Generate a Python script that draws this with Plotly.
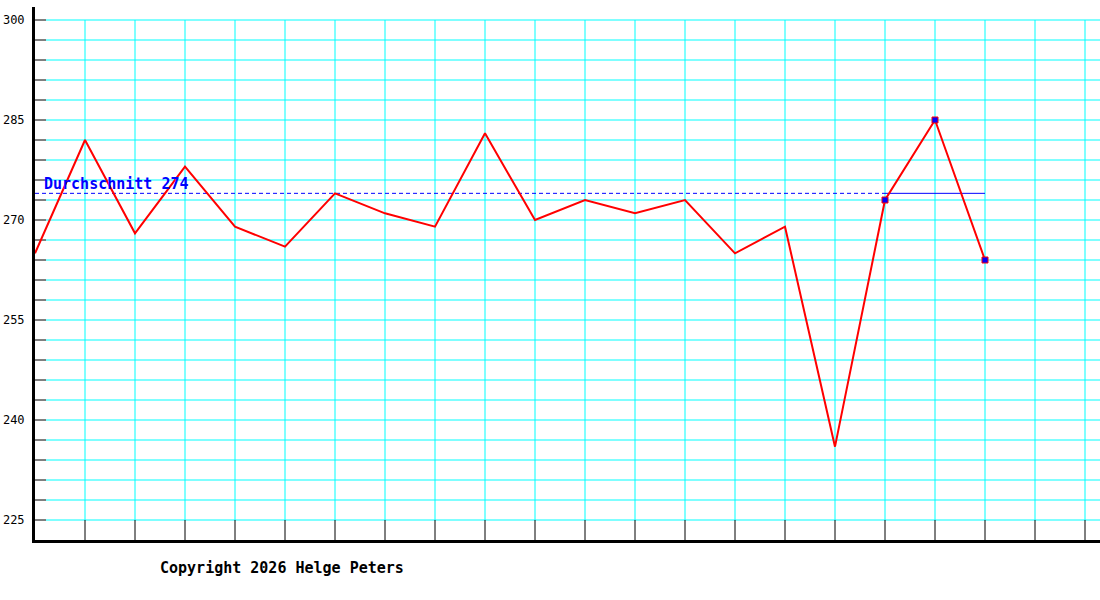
import plotly.graph_objects as go


# values, one per column
points = list(range(20))

values = [265, 282, 268, 278, 269, 266, 274, 271, 269, 283,
          270, 273, 271, 273, 265, 269, 236, 273, 285, 264]

average = 274

avg_label = 'Durchschnitt 274'

highlight = [17, 18, 19]          # last points drawn with blue dots

y_ticks = [225, 240, 255, 270, 285, 300]

grid_rows = list(range(225, 301, 3))

grid_cols = list(range(1, 22))

copyright_text = 'Copyright 2026 Helge Peters'


GRID = 'rgb(0,255,255)'
MONO = 'DejaVu Sans Mono'

X_RANGE = [0, 21.3]
Y_RANGE = [222, 301.95]
TICK_X = 0.22                     # length of the black y ticks in data units


fig = go.Figure()

shapes = []

for row in grid_rows:             # horizontal grid with black tick at the axis

    shapes.append(dict(type = 'line', xref = 'x', yref = 'y', layer = 'below',
                       x0 = TICK_X, x1 = X_RANGE[1], y0 = row, y1 = row,
                       line = dict(color = GRID, width = 1)))

    shapes.append(dict(type = 'line', xref = 'x', yref = 'y', layer = 'below',
                       x0 = 0, x1 = TICK_X, y0 = row, y1 = row,
                       line = dict(color = 'black', width = 1)))

for col in grid_cols:             # vertical grid, black below the lowest row

    shapes.append(dict(type = 'line', xref = 'x', yref = 'y', layer = 'below',
                       x0 = col, x1 = col, y0 = grid_rows[0], y1 = grid_rows[-1],
                       line = dict(color = GRID, width = 1)))

    shapes.append(dict(type = 'line', xref = 'x', yref = 'y', layer = 'below',
                       x0 = col, x1 = col, y0 = Y_RANGE[0], y1 = grid_rows[0],
                       line = dict(color = 'black', width = 1)))


fig.add_trace(                     # dashed average line
        go.Scatter(
                x = [points[0], points[highlight[0]]],
                y = [average, average],
                mode = 'lines',
                line = dict(color = 'blue', width = 1, dash = '4px,3px'),
                hoverinfo = 'none'
            )
    )

fig.add_trace(                     # solid average over the last points
        go.Scatter(
                x = [points[highlight[0]], points[highlight[-1]]],
                y = [average, average],
                mode = 'lines',
                line = dict(color = 'blue', width = 1),
                hoverinfo = 'none'
            )
    )

fig.add_trace(
        go.Scatter(
                x = points,
                y = values,
                mode = 'lines',
                line = dict(color = 'red', width = 2),
            )
    )

fig.add_trace(
        go.Scatter(
                x = [points[i] for i in highlight],
                y = [values[i] for i in highlight],
                mode = 'markers',
                marker = dict(color = 'blue', size = 6, symbol = 'square',
                              line = dict(color = 'red', width = 1)),
            )
    )


annotations = [
    dict(text = '<b>' + avg_label + '</b>', x = 0.14, y = average, xref = 'x', yref = 'y',
         xanchor = 'left', yanchor = 'bottom', yshift = -2, showarrow = False,
         font = dict(family = MONO, size = 15, color = 'blue')),
    dict(text = '<b>' + copyright_text + '</b>', x = 123 / 1065, y = -28 / 533,
         xref = 'paper', yref = 'paper', xanchor = 'left', yanchor = 'middle',
         showarrow = False, font = dict(family = MONO, size = 15, color = 'black')),
]


fig.update_layout(
        width = 1100,
        height = 600,
        margin = dict(l = 35, r = 0, t = 7, b = 60),
        paper_bgcolor = 'white',
        plot_bgcolor = 'white',
        showlegend = False,
        shapes = shapes,
        annotations = annotations,
        xaxis = dict(range = X_RANGE, showgrid = False, zeroline = False,
                     showticklabels = False, ticks = '',
                     showline = True, linecolor = 'black', linewidth = 3),
        yaxis = dict(range = Y_RANGE, showgrid = False, zeroline = False,
                     tickmode = 'array', tickvals = y_ticks, ticks = '',
                     ticklabelstandoff = 5,
                     tickfont = dict(family = MONO, size = 12, color = 'black'),
                     showline = True, linecolor = 'black', linewidth = 3),
    )

# drop the default page margin so the 1100x600 figure fills the window exactly
fig.write_html('out.html', config = {'displayModeBar': False},
               post_script = "document.body.style.margin='0';document.body.style.overflow='hidden';")
